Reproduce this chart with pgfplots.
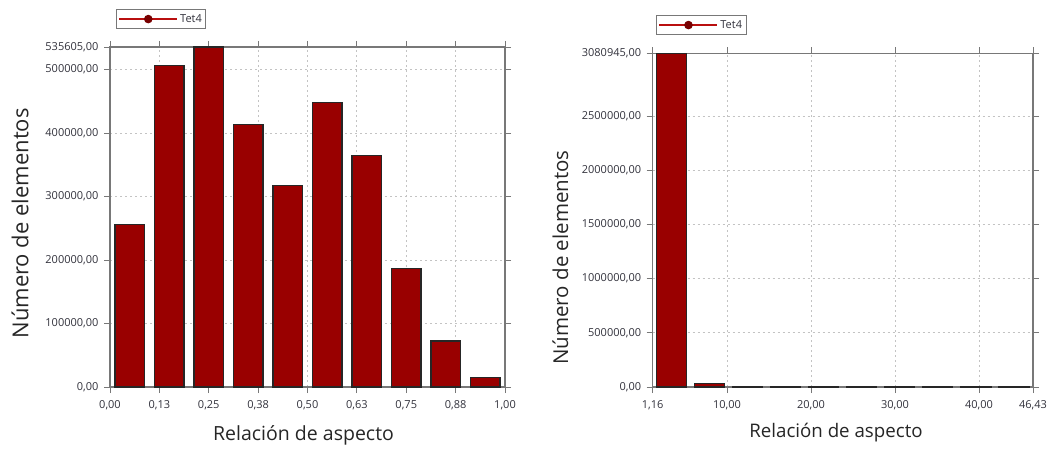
\documentclass[border=0pt]{standalone}
\usepackage{pgfplots}
\pgfplotsset{compat=1.18}
\usepackage{fontspec}
\setmainfont{Open Sans}
\definecolor{barred}{RGB}{153,0,0}
\definecolor{legred}{RGB}{185,15,15}
\definecolor{legdot}{RGB}{120,0,0}
\definecolor{boxgray}{RGB}{120,120,120}
\definecolor{gridgray}{RGB}{195,195,195}
\definecolor{ticktext}{RGB}{50,50,60}
\pgfplotsset{
  histstyle/.style={
    scale only axis,
    axis line style={boxgray, line width=1.1pt},
    major tick style={boxgray, line width=0.8pt},
    tick align=outside,
    major tick length=6pt,
    xmajorgrids, ymajorgrids,
    grid style={gridgray, line width=0.9pt, dash pattern=on 2pt off 3pt},
    ymin=0,
    scaled y ticks=false, scaled x ticks=false,
    tick label style={font=\fontsize{11}{12}\selectfont, text=ticktext},
    yticklabel style={xshift=-2pt},
    xticklabel style={yshift=-4pt},
    label style={text=black!85},
    legend style={draw=boxgray, line width=0.9pt, font=\fontsize{11}{12}\selectfont, text=ticktext,
      inner xsep=2pt, inner ysep=3pt, anchor=north west, legend cell align=left},
    legend image code/.code={
      \draw[legred, line width=1.8pt] (0pt,0pt) -- (58pt,0pt);
      \fill[legdot] (29pt,0pt) circle (3.8pt);
    },
  },
  barstyle/.style={ybar, fill=barred, draw=black!85, line width=1.1pt, forget plot},
}
\begin{document}
\begin{tikzpicture}
\useasboundingbox (0pt,0pt) rectangle (1059pt,448pt);
% Left chart
\begin{axis}[histstyle,
  at={(110pt,61pt)}, anchor=south west,
  width=395pt, height=340pt,
  xmin=0, xmax=1, ymax=535605,
  xtick={0,0.125,0.25,0.375,0.5,0.625,0.75,0.875,1},
  xticklabels={0{,}00,0{,}13,0{,}25,0{,}38,0{,}50,0{,}63,0{,}75,0{,}88,1{,}00},
  ytick={0,100000,200000,300000,400000,500000,535605},
  yticklabels={0{,}00,100000{,}00,200000{,}00,300000{,}00,400000{,}00,500000{,}00,535605{,}00},
  xlabel={Relación de aspecto}, ylabel={Número de elementos},
  xlabel style={at={(axis description cs:0.49,-0.156)}, anchor=base, font=\fontsize{19.5}{22}\selectfont},
  ylabel style={at={(axis description cs:-0.228,0.481)}, anchor=center, font=\fontsize{22}{24}\selectfont},
  legend style={at={(axis description cs:0.015,1.112)}},
]
\addplot[barstyle, bar width=29.5pt] coordinates {
  (0.05,256000) (0.15,506000) (0.25,535605) (0.35,414000) (0.45,318000)
  (0.55,448500) (0.65,364000) (0.75,187000) (0.85,72500) (0.95,15500)};
\addlegendimage{}
\addlegendentry{Tet4}
\end{axis}
% Right chart
\begin{axis}[histstyle,
  at={(652.7pt,61pt)}, anchor=south west,
  width=380.3pt, height=333.7pt,
  xmin=1.16, xmax=46.43, ymax=3080945,
  xtick={1.16,10,20,30,40,46.43},
  xticklabels={1{,}16,10{,}00,20{,}00,30{,}00,40{,}00,46{,}43},
  ytick={0,500000,1000000,1500000,2000000,2500000,3080945},
  yticklabels={0{,}00,500000{,}00,1000000{,}00,1500000{,}00,2000000{,}00,2500000{,}00,3080945{,}00},
  xlabel={Relación de aspecto}, ylabel={Número de elementos},
  xlabel style={at={(axis description cs:0.482,-0.150)}, anchor=base, font=\fontsize{18.7}{21}\selectfont},
  ylabel style={at={(axis description cs:-0.2425,0.388)}, anchor=center, font=\fontsize{20.5}{23}\selectfont},
  legend style={at={(axis description cs:0.009,1.115)}},
]
\addplot[barstyle, bar width=30pt] coordinates {
  (3.42,3080945) (7.95,30000) (12.48,3000) (17.00,1200) (21.53,600)
  (26.06,300) (30.59,200) (35.11,120) (39.64,80) (44.17,50)};
\addlegendimage{}
\addlegendentry{Tet4}
\end{axis}
\end{tikzpicture}
\end{document}
